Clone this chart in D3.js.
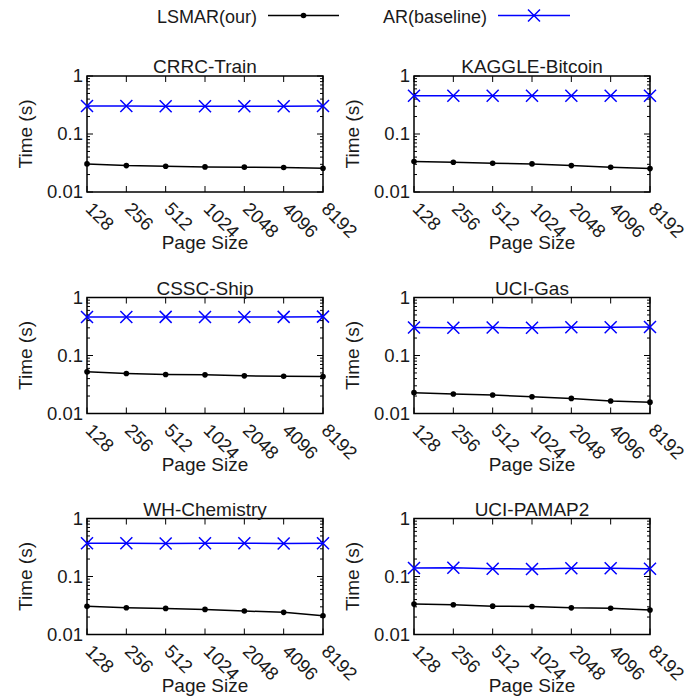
<!DOCTYPE html>
<html><head><meta charset="utf-8">
<script src="https://cdn.jsdelivr.net/npm/d3@7"></script>
<style>
html,body{margin:0;padding:0;background:#fff;}
svg text{font-family:"Liberation Sans",Arial,Helvetica,sans-serif;fill:#1a1a1a;}
</style></head>
<body>
<script>
const pageSizes = ["128","256","512","1024","2048","4096","8192"];
const datasets = ["CRRC-Train","KAGGLE-Bitcoin","CSSC-Ship","UCI-Gas","WH-Chemistry","UCI-PAMAP2"];
const seriesNames = ["LSMAR(our)","AR(baseline)"];
const lsmar = [
  [0.0305,0.0285,0.0278,0.0271,0.0268,0.0264,0.0257],
  [0.0335,0.0326,0.0313,0.0305,0.0285,0.0267,0.0253],
  [0.0523,0.0490,0.0470,0.0464,0.0446,0.0440,0.0435],
  [0.0229,0.0217,0.0208,0.0195,0.0182,0.0164,0.0157],
  [0.0306,0.0290,0.0282,0.0271,0.0254,0.0241,0.0211],
  [0.0334,0.0325,0.0308,0.0304,0.0288,0.0284,0.0265]
];
const ar = [
  [0.303,0.305,0.302,0.302,0.301,0.301,0.303],
  [0.457,0.457,0.457,0.458,0.457,0.457,0.457],
  [0.462,0.462,0.463,0.462,0.462,0.463,0.468],
  [0.305,0.300,0.303,0.300,0.306,0.306,0.310],
  [0.373,0.373,0.372,0.373,0.374,0.372,0.373],
  [0.140,0.142,0.136,0.135,0.139,0.139,0.136]
];
const yTicks = [1,0.1,0.01];
const yTickLabels = ["1","0.1","0.01"];

const W = 696, H = 698;
const svg = d3.select("body").append("svg").attr("width",W).attr("height",H);
const FS = 19, TFS = 18.5, LFS = 18;
const colLeft = [87, 414], pw = 236;
const rowTop = [76, 297.5, 518.5], ph = 116;
const blue = "#0000ff";

function xMarker(g, x, y, s){
  g.append("path").attr("d",`M${x-s},${y-s}L${x+s},${y+s}M${x-s},${y+s}L${x+s},${y-s}`)
   .attr("stroke",blue).attr("stroke-width",1.5).attr("fill","none");
}

// Legend
const leg = svg.append("g");
leg.append("text").attr("x",257).attr("y",23).attr("text-anchor","end").attr("font-size",LFS).text(seriesNames[0]);
leg.append("line").attr("x1",268).attr("x2",339).attr("y1",15.5).attr("y2",15.5).attr("stroke","#000").attr("stroke-width",1.5);
leg.append("circle").attr("cx",303.5).attr("cy",15.5).attr("r",2.8).attr("fill","#000");
leg.append("text").attr("x",487).attr("y",23).attr("text-anchor","end").attr("font-size",LFS).text(seriesNames[1]);
leg.append("line").attr("x1",498).attr("x2",570).attr("y1",15.5).attr("y2",15.5).attr("stroke",blue).attr("stroke-width",1.5);
xMarker(leg, 534, 15.5, 6);

datasets.forEach((name,i)=>{
  const r = Math.floor(i/2), c = i%2;
  const x0 = colLeft[c], y0 = rowTop[r];
  const g = svg.append("g").attr("transform",`translate(${x0},${y0})`);
  const x = d3.scalePoint().domain(pageSizes).range([0,pw]);
  const y = d3.scaleLog().domain([0.01,1]).range([ph,0]);

  const minors = [];
  [0.01,0.1].forEach(b=>{for(let k=2;k<=9;k++) minors.push(b*k);});
  minors.forEach(v=>{
    g.append("line").attr("x1",0).attr("x2",3).attr("y1",y(v)).attr("y2",y(v)).attr("stroke","#000").attr("stroke-width",1);
    g.append("line").attr("x1",pw-3).attr("x2",pw).attr("y1",y(v)).attr("y2",y(v)).attr("stroke","#000").attr("stroke-width",1);
  });
  yTicks.forEach((v,k)=>{
    g.append("line").attr("x1",0).attr("x2",6).attr("y1",y(v)).attr("y2",y(v)).attr("stroke","#000").attr("stroke-width",1);
    g.append("line").attr("x1",pw-6).attr("x2",pw).attr("y1",y(v)).attr("y2",y(v)).attr("stroke","#000").attr("stroke-width",1);
    g.append("text").attr("x",-4).attr("y",y(v)).attr("dy","0.34em").attr("text-anchor","end").attr("font-size",TFS).text(yTickLabels[k]);
  });
  pageSizes.forEach(p=>{
    g.append("line").attr("x1",x(p)).attr("x2",x(p)).attr("y1",0).attr("y2",6).attr("stroke","#000").attr("stroke-width",1);
    g.append("line").attr("x1",x(p)).attr("x2",x(p)).attr("y1",ph-6).attr("y2",ph).attr("stroke","#000").attr("stroke-width",1);
    g.append("text").attr("transform",`translate(${x(p)-2.5},${ph+18}) rotate(45)`).attr("font-size",TFS).text(p);
  });

  g.append("rect").attr("x",0).attr("y",0).attr("width",pw).attr("height",ph).attr("fill","none").attr("stroke","#000").attr("stroke-width",1.5);

  const line = d3.line().x((d,j)=>x(pageSizes[j])).y(d=>y(d));
  g.append("path").datum(ar[i]).attr("d",line).attr("fill","none").attr("stroke",blue).attr("stroke-width",1.5);
  ar[i].forEach((v,j)=>xMarker(g, x(pageSizes[j]), y(v), 6));
  g.append("path").datum(lsmar[i]).attr("d",line).attr("fill","none").attr("stroke","#000").attr("stroke-width",1.5);
  lsmar[i].forEach((v,j)=>g.append("circle").attr("cx",x(pageSizes[j])).attr("cy",y(v)).attr("r",2.8).attr("fill","#000"));

  g.append("text").attr("x",pw/2).attr("y",-3).attr("text-anchor","middle").attr("font-size",FS).text(name);
  g.append("text").attr("x",pw/2).attr("y",ph+57).attr("text-anchor","middle").attr("font-size",FS).text("Page Size");
  g.append("text").attr("transform",`translate(-55,${ph/2}) rotate(-90)`).attr("text-anchor","middle").attr("font-size",FS).text("Time (s)");
});
</script>
</body></html>
